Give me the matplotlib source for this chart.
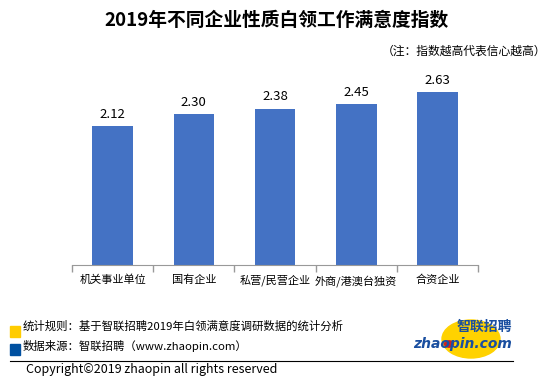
import matplotlib
matplotlib.use("Agg")
import matplotlib.pyplot as plt
from matplotlib.patches import Rectangle, Ellipse, Circle
from matplotlib.lines import Line2D

plt.rcParams['font.family'] = ['Noto Sans CJK SC', 'DejaVu Sans']

# данные
categories = ['机关事业单位', '国有企业', '私营/民营企业', '外商/港澳台独资', '合资企业']
values = [2.12, 2.30, 2.38, 2.45, 2.63]

W, H = 554, 390
fig = plt.figure(figsize=(W / 100, H / 100), dpi=100)

def fx(px):
    return px / W

def fy(py):
    return 1 - py / H

ax = fig.add_axes([fx(72), fy(265), fx(478) - fx(72), fy(68) - fy(265)])
x = range(len(categories))
bars = ax.bar(x, values, width=0.5, color='#4472C4')
for b, v in zip(bars, values):
    ax.text(b.get_x() + b.get_width() / 2, v + 0.08, f'{v:.2f}',
            ha='center', va='bottom', fontsize=9.5, color='#000000')

ax.set_xlim(-0.5, len(categories) - 0.5)
ax.set_ylim(0, 3)
ax.set_yticks([])
ax.set_xticks([i - 0.5 for i in range(len(categories) + 1)], minor=False)
ax.set_xticklabels([])
ax.tick_params(axis='x', length=5, color='#999999', width=1)
ax.set_xticks(list(x), minor=True)
ax.set_xticklabels(categories, minor=True, fontsize=8)
ax.tick_params(axis='x', which='minor', length=0, pad=7)
for s in ['top', 'right', 'left']:
    ax.spines[s].set_visible(False)
ax.spines['bottom'].set_color('#999999')

fig.text(0.5, fy(20), '2019年不同企业性质白领工作满意度指数', ha='center', va='center',
         fontsize=13.5, fontweight='bold')
fig.text(fx(546), fy(51), '（注：指数越高代表信心越高）', ha='right', va='center', fontsize=8.5)

# легенда внизу
fig.patches.append(Rectangle((fx(10), fy(337)), fx(10), 11 / H, color='#FFCC00',
                             transform=fig.transFigure, figure=fig))
fig.patches.append(Rectangle((fx(10), fy(355)), fx(10), 11 / H, color='#0050A0',
                             transform=fig.transFigure, figure=fig))
fig.text(fx(23), fy(326), '统计规则：基于智联招聘2019年白领满意度调研数据的统计分析',
         ha='left', va='center', fontsize=8.2)
fig.text(fx(23), fy(346), '数据来源：智联招聘（www.zhaopin.com）',
         ha='left', va='center', fontsize=8.2)

# логотип
fig.patches.append(Ellipse((fx(471), fy(339)), 58 / W, 38 / H, color='#FFD200',
                           transform=fig.transFigure, figure=fig))
fig.text(fx(484), fy(327), '智联招聘', ha='center', va='center', fontsize=10,
         fontweight='bold', color='#1A4FA0')
fig.text(fx(463), fy(344), 'zhaopin.com', ha='center', va='center', fontsize=10,
         fontweight='bold', style='italic', color='#1A4FA0', family='DejaVu Sans')
fig.patches.append(Circle((fx(449), fy(344)), 4.5 / W, color='#D02020',
                          transform=fig.transFigure, figure=fig))

fig.add_artist(Line2D([fx(10), fx(513)], [fy(361), fy(361)], color='black', lw=0.8))
fig.text(fx(26), fy(370), 'Copyright©2019 zhaopin all rights reserved',
         ha='left', va='center', fontsize=9)

fig.savefig('out.png', dpi=100)
